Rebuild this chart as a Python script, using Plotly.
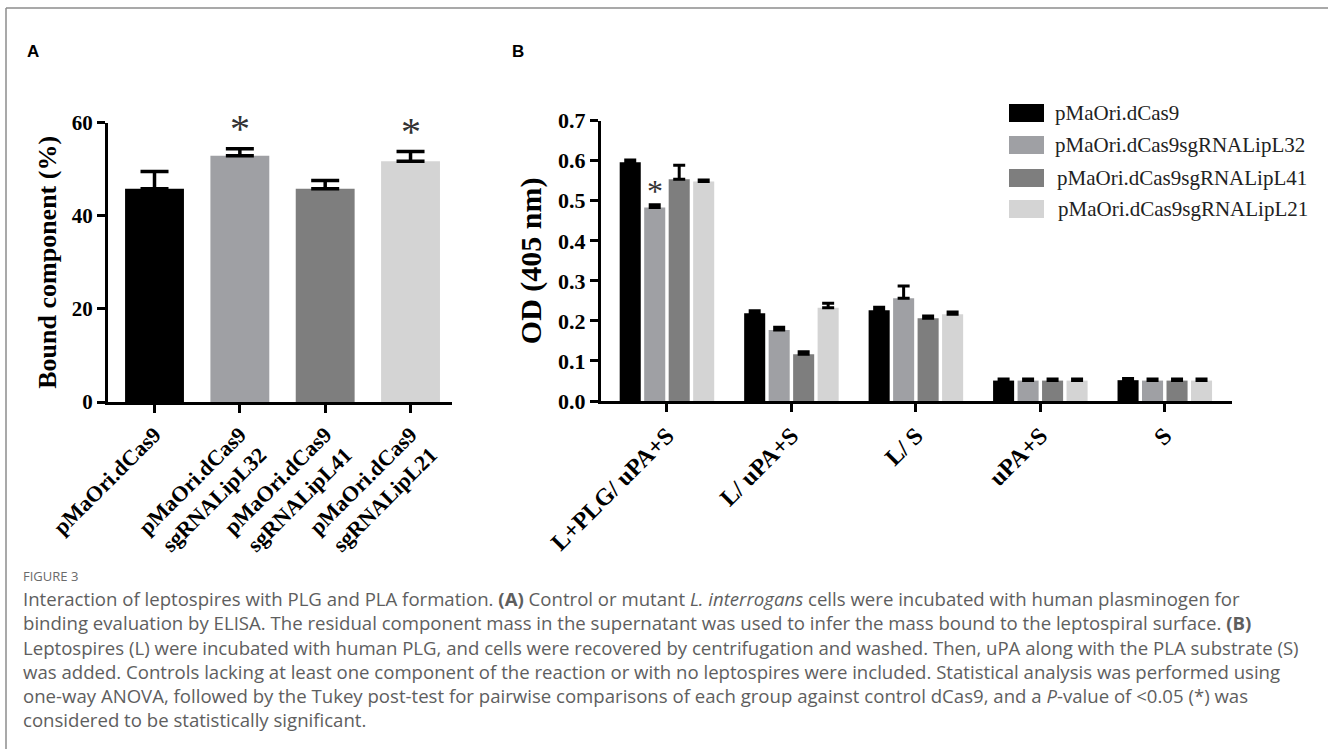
import plotly.graph_objects as go

W, H = 1328, 749

# ---------------- data ----------------
# Panel A
a_categories = ["pMaOri.dCas9", "pMaOri.dCas9<br>sgRNALipL32",
                "pMaOri.dCas9<br>sgRNALipL41", "pMaOri.dCas9<br>sgRNALipL21"]
a_values = [45.8, 52.9, 45.8, 51.7]
a_errors = [3.7, 1.5, 1.8, 2.1]
a_significant = [False, True, False, True]

# Panel B
b_categories = ["L+PLG/ uPA+S", "L/ uPA+S", "L/ S", "uPA+S", "S"]
b_series_names = ["pMaOri.dCas9", "pMaOri.dCas9sgRNALipL32",
                  "pMaOri.dCas9sgRNALipL41", "pMaOri.dCas9sgRNALipL21"]
b_dcas9 = [0.596, 0.219, 0.2265, 0.051, 0.052]
b_lipl32 = [0.483, 0.177, 0.2565, 0.051, 0.051]
b_lipl41 = [0.554, 0.1166, 0.2065, 0.051, 0.051]
b_lipl21 = [0.548, 0.233, 0.2165, 0.051, 0.051]
b_dcas9_err = [0.006, 0.0065, 0.0075, 0.004, 0.004]
b_lipl32_err = [0.007, 0.007, 0.0305, 0.004, 0.004]
b_lipl41_err = [0.035, 0.0064, 0.0058, 0.004, 0.004]
b_lipl21_err = [0.004, 0.011, 0.0055, 0.004, 0.004]
b_star = ("L+PLG/ uPA+S", 1)  # category, series index (LipL32)

colors = ["#000000", "#9fa0a4", "#7e7e7e", "#d4d4d4"]

caption_lines = [
    "Interaction of leptospires with PLG and PLA formation. <b>(A)</b> Control or mutant <i>L. interrogans</i> cells were incubated with human plasminogen for",
    "binding evaluation by ELISA. The residual component mass in the supernatant was used to infer the mass bound to the leptospiral surface. <b>(B)</b>",
    "Leptospires (L) were incubated with human PLG, and cells were recovered by centrifugation and washed. Then, uPA along with the PLA substrate (S)",
    "was added. Controls lacking at least one component of the reaction or with no leptospires were included. Statistical analysis was performed using",
    "one-way ANOVA, followed by the Tukey post-test for pairwise comparisons of each group against control dCas9, and a <i>P</i>-value of &lt;0.05 (*) was",
    "considered to be statistically significant.",
]


def fx(x):
    return x / W


def fy(y):
    return 1 - y / H


SERIF = "Liberation Serif"
bargap = 0.213
bargroupgap = 0.14

fig = go.Figure()

# Panel A bars
fig.add_trace(go.Bar(
    x=a_categories, y=a_values, width=0.69,
    marker=dict(color=colors, line=dict(width=0)),
    error_y=dict(type="data", array=a_errors, arrayminus=[0] * len(a_errors),
                 symmetric=False, color="black", thickness=3.5, width=14),
    xaxis="x", yaxis="y", showlegend=False, hoverinfo="skip",
))

# Panel B bars
b_vals = [b_dcas9, b_lipl32, b_lipl41, b_lipl21]
b_errs = [b_dcas9_err, b_lipl32_err, b_lipl41_err, b_lipl21_err]
for name, vals, errs, col in zip(b_series_names, b_vals, b_errs, colors):
    fig.add_trace(go.Bar(
        x=b_categories, y=vals, name=name,
        marker=dict(color=col, line=dict(width=0)),
        error_y=dict(type="data", array=errs, arrayminus=[0] * len(errs),
                     symmetric=False, color="black", thickness=3, width=6),
        xaxis="x2", yaxis="y2", showlegend=False, hoverinfo="skip",
    ))

annotations = []
# stars panel A
for i, (v, e, s) in enumerate(zip(a_values, a_errors, a_significant)):
    if s:
        annotations.append(dict(
            x=i, y=v + e, xref="x", yref="y", text="*", showarrow=False,
            yanchor="bottom", yshift=-4,
            font=dict(family=SERIF, size=40, color="#333333")))
# star panel B
cat, si = b_star
ci = b_categories.index(cat)
slot = (1 - bargap) / len(b_series_names)
xpos = ci - (1 - bargap) / 2 + slot * (si + 0.5)
annotations.append(dict(
    x=xpos, y=b_vals[si][ci] + b_errs[si][ci], xref="x2", yref="y2", text="*",
    showarrow=False, yanchor="bottom", yshift=-6,
    font=dict(family=SERIF, size=32, color="#333333")))

# panel labels
annotations.append(dict(x=fx(25), y=fy(52), xref="paper", yref="paper", text="<b>A</b>",
                        showarrow=False, xanchor="left", yanchor="middle",
                        font=dict(family="Liberation Sans", size=17, color="black")))
annotations.append(dict(x=fx(510), y=fy(52), xref="paper", yref="paper", text="<b>B</b>",
                        showarrow=False, xanchor="left", yanchor="middle",
                        font=dict(family="Liberation Sans", size=17, color="black")))

# legend (manual)
shapes = []
leg_cy = [113, 145, 178, 209]
leg_tx = [1053, 1053, 1055, 1056]
for name, col, cy, tx in zip(b_series_names, colors, leg_cy, leg_tx):
    shapes.append(dict(type="rect", xref="paper", yref="paper",
                       x0=fx(1009), x1=fx(1044), y0=fy(cy + 9), y1=fy(cy - 9),
                       fillcolor=col, line=dict(width=0)))
    annotations.append(dict(x=fx(tx), y=fy(cy), xref="paper", yref="paper", text=name,
                            showarrow=False, xanchor="left", yanchor="middle",
                            font=dict(family=SERIF, size=21, color="#222222")))

# caption
annotations.append(dict(x=fx(21), y=fy(576), xref="paper", yref="paper", text="FIGURE 3",
                        showarrow=False, xanchor="left", yanchor="middle",
                        font=dict(family="Open Sans", size=13, color="#6a6a6a")))
cap_cy = [598, 622, 647, 671, 695, 719]
for line, cy in zip(caption_lines, cap_cy):
    annotations.append(dict(x=fx(21), y=fy(cy), xref="paper", yref="paper", text=line,
                            showarrow=False, xanchor="left", yanchor="middle",
                            font=dict(family="Open Sans", size=18.6, color="#5e5e5e")))

# frame lines
shapes.append(dict(type="line", xref="paper", yref="paper", x0=fx(6), x1=1, y0=fy(8), y1=fy(8),
                   line=dict(color="#8c8c8c", width=1.5)))
shapes.append(dict(type="line", xref="paper", yref="paper", x0=fx(6), x1=fx(6), y0=fy(8), y1=0,
                   line=dict(color="#8c8c8c", width=1.5)))

axis_common = dict(showline=True, linecolor="black", linewidth=3, ticks="outside",
                   ticklen=8, tickwidth=3, tickcolor="black", showgrid=False, zeroline=False,
                   automargin=False, fixedrange=True)

fig.update_layout(
    template="none",
    width=W, height=H, margin=dict(l=0, r=0, t=0, b=0, autoexpand=False),
    paper_bgcolor="white", plot_bgcolor="white", showlegend=False, hovermode=False,
    barmode="group", bargap=bargap, bargroupgap=bargroupgap,
    xaxis=dict(domain=[fx(108), fx(452)], range=[-0.545, 3.486], type="category",
               tickangle=-45, tickfont=dict(family=SERIF, size=22, color="black", weight="bold"),
               anchor="y", **axis_common),
    yaxis=dict(domain=[fy(402), fy(122.7)], range=[0, 60], tickvals=[0, 20, 40, 60],
               tickfont=dict(family=SERIF, size=21, color="black", weight="bold"),
               title=dict(text="Bound component (%)", standoff=8,
                          font=dict(family=SERIF, size=26, color="black", weight="bold")),
               anchor="x", **axis_common),
    xaxis2=dict(domain=[fx(601), fx(1232)], range=[-0.53, 4.54], type="category",
                tickangle=-45, tickfont=dict(family=SERIF, size=24, color="black", weight="bold"),
                anchor="y2", **axis_common),
    yaxis2=dict(domain=[fy(401), fy(120.7)], range=[0, 0.7], dtick=0.1, tickformat=".1f",
                tickfont=dict(family=SERIF, size=22, color="black", weight="bold"),
                title=dict(text="OD (405 nm)", standoff=8,
                           font=dict(family=SERIF, size=30, color="black", weight="bold")),
                anchor="x2", **axis_common),
    annotations=annotations, shapes=shapes,
)

fig.write_html("out.html", config={"displayModeBar": False, "staticPlot": True},
               post_script="document.body.style.margin='0px';")
